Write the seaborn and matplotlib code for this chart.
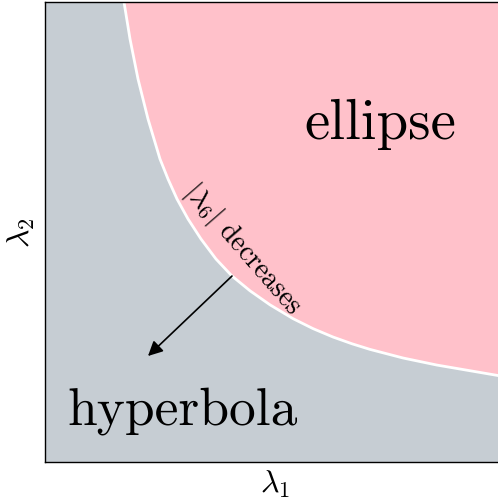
import matplotlib
matplotlib.use("Agg")
import matplotlib.pyplot as plt
import seaborn as sns
import numpy as np

# boundary curve between the two regions
lam1 = [1.717, 1.848, 2.022, 2.239, 2.500, 2.674, 2.870, 3.109, 3.391, 3.717,
        4.065, 4.457, 4.891, 5.391, 5.826, 6.261, 6.674, 7.065, 7.783, 8.522, 9.848, 10.0]
lam2 = [10.0, 9.196, 8.326, 7.457, 6.587, 6.152, 5.717, 5.283, 4.848, 4.413,
        4.043, 3.722, 3.417, 3.117, 2.900, 2.717, 2.570, 2.448, 2.261, 2.107, 1.880, 1.857]

region_labels = ["ellipse", "hyperbola"]
curve_label = r"$|\lambda_6|$ decreases"
xlabel = r"$\lambda_1$"
ylabel = r"$\lambda_2$"

sns.set_style("white")
plt.rcParams["mathtext.fontset"] = "cm"
plt.rcParams["text.color"] = "black"
plt.rcParams["axes.labelcolor"] = "black"

fig = plt.figure(figsize=(4.98, 5.02), dpi=100)
ax = fig.add_axes([45 / 498, 39 / 502, 460 / 498, 460 / 502])

gray = "#c6cdd3"
pink = "#ffc1ca"
ax.set_facecolor(gray)
x = np.array(lam1)
y = np.array(lam2)
ax.fill_between(x, y, 10, color=pink, lw=0)
sns.lineplot(x=lam1, y=lam2, color="white", lw=2, ax=ax, sort=False)

ax.set_xlim(0, 10)
ax.set_ylim(0, 10)
ax.set_xticks([])
ax.set_yticks([])
for s in ax.spines.values():
    s.set_color("black")
    s.set_linewidth(1.0)

ax.text(7.3, 7.35, region_labels[0], fontsize=41, family="cmr10", color="black",
        ha="center", va="center")
ax.text(2.98, 1.13, region_labels[1], fontsize=38.5, family="cmr10", color="black",
        ha="center", va="center")
ax.text(4.3, 4.66, curve_label, fontsize=20, family="cmr10", color="black",
        ha="center", va="center", rotation=-49, rotation_mode="anchor")

ax.annotate("", xy=(2.239, 2.304), xytext=(4.065, 4.043),
            arrowprops=dict(arrowstyle="-|>", lw=1.2, color="black", mutation_scale=22,
                            shrinkA=0, shrinkB=0))

ax.set_xlabel(xlabel, fontsize=23, labelpad=4, color="black")
ax.set_ylabel(ylabel, fontsize=23, labelpad=6, color="black")

fig.savefig("out.png", dpi=100)
